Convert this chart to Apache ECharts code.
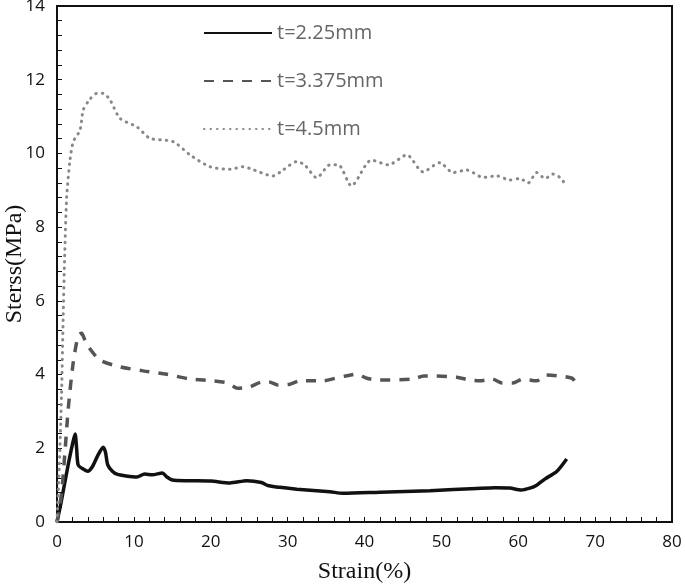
<!DOCTYPE html>
<html>
<head>
<meta charset="utf-8">
<script src="https://cdn.jsdelivr.net/npm/echarts@6/dist/echarts.min.js"></script>
<style>
  html, body { margin: 0; padding: 0; background: #fff; }
  #chart { width: 685px; height: 584px; }
</style>
</head>
<body>
<div id="chart"></div>
<script>
// t = 2.25 mm
var strainA = [0, 0.5, 1, 1.5, 2.0, 2.35, 2.55, 2.75, 3.3, 4.0, 4.6, 5.3, 6.0, 6.3, 6.6, 7.2, 7.8, 9, 10.4, 11.4, 12.4, 13.7, 14.3, 15, 17, 20, 22.5, 24.7, 26.6, 27.4, 29, 31.2, 35.5, 37.2, 42, 48.5, 54.6, 57, 58.9, 60.4, 61.5, 62.4, 63.5, 65.0, 66.3]
var stressA = [0, 0.5, 1.05, 1.6, 2.1, 2.39, 2.0, 1.55, 1.45, 1.38, 1.5, 1.8, 2.03, 1.9, 1.55, 1.38, 1.3, 1.25, 1.22, 1.3, 1.28, 1.33, 1.22, 1.14, 1.12, 1.11, 1.06, 1.12, 1.07, 0.99, 0.94, 0.89, 0.82, 0.78, 0.81, 0.85, 0.91, 0.93, 0.92, 0.87, 0.92, 1.0, 1.17, 1.37, 1.71]

// t = 3.375 mm
var strainB = [0, 0.6, 1.0, 1.47, 2.1, 2.77, 3.2, 3.6, 4.07, 5.6, 8.2, 11.2, 14.3, 17.3, 20.3, 22.2, 23.5, 25.0, 26.7, 27.6, 28.7, 30.3, 31.6, 34.6, 36.2, 37.5, 39.0, 40.3, 41.9, 46.3, 47.7, 49.2, 52, 53.7, 55, 56.6, 57.9, 59.3, 60.6, 62.4, 63.6, 65.4, 67.0, 67.4]
var stressB = [0, 0.8, 1.8, 3.09, 4.31, 5.07, 5.12, 4.95, 4.76, 4.39, 4.21, 4.1, 4.01, 3.88, 3.83, 3.77, 3.63, 3.66, 3.8, 3.8, 3.72, 3.74, 3.83, 3.83, 3.9, 3.96, 4.01, 3.9, 3.85, 3.88, 3.96, 3.96, 3.93, 3.85, 3.83, 3.88, 3.77, 3.77, 3.88, 3.83, 3.99, 3.96, 3.9, 3.8]

// t = 4.5 mm
var strainC = [0, 0.3, 0.6, 0.8, 1.0, 1.26, 1.69, 2.12, 2.99, 3.42, 4.2, 5.16, 6.0, 6.9, 8.2, 10.4, 12.1, 15.1, 17.3, 19.9, 22.5, 24.2, 25.1, 28.1, 29.4, 31.2, 32.2, 33.8, 35.5, 36.6, 38.3, 40.9, 43.1, 45.5, 47.6, 49.8, 51.5, 53.3, 55.4, 57.2, 58.9, 60.2, 61.3, 62.4, 63.5, 64.5, 65.6, 66.2]
var stressC = [0, 1.5, 3.5, 5.5, 7.2, 8.8, 9.82, 10.32, 10.63, 11.18, 11.45, 11.63, 11.63, 11.45, 10.95, 10.72, 10.41, 10.32, 9.96, 9.64, 9.57, 9.64, 9.59, 9.39, 9.55, 9.78, 9.69, 9.34, 9.69, 9.69, 9.12, 9.82, 9.69, 9.96, 9.5, 9.75, 9.48, 9.55, 9.35, 9.39, 9.28, 9.32, 9.2, 9.48, 9.32, 9.44, 9.32, 9.1]

var names = ['t=2.25mm', 't=3.375mm', 't=4.5mm']

function pairs (xs, ys) {
  var out = []
  for (var i = 0; i < xs.length; i++) out.push([xs[i], ys[i]])
  return out
}

var chart = echarts.init(document.getElementById('chart'))
var labelFont = { color: '#111', fontSize: 17, fontFamily: 'Open Sans' }

var option = {
  animation: false,
  grid: {
    left: 57, right: 13, top: 6, bottom: 62,
    outerBoundsMode: 'none',
    containLabel: false,
    show: true, borderColor: '#111', borderWidth: 2
  },
  legend: {
    orient: 'vertical',
    left: 198,
    top: 17,
    itemWidth: 68,
    itemHeight: 22,
    itemGap: 26,
    itemStyle: { opacity: 0 },
    textStyle: { color: '#666', fontSize: 20, fontFamily: 'Open Sans', lineHeight: 22 },
    data: names
  },
  xAxis: {
    type: 'value',
    min: 0, max: 80, interval: 10,
    name: 'Strain(%)',
    nameLocation: 'middle',
    nameGap: 38,
    nameMoveOverlap: false,
    nameTextStyle: { color: '#111', fontSize: 24, fontFamily: 'Liberation Serif' },
    axisLine: { lineStyle: { color: '#111', width: 2 } },
    axisTick: { inside: true, length: 5, lineStyle: { color: '#111' } },
    minorTick: { show: true, splitNumber: 5, length: 5, lineStyle: { color: '#111' } },
    splitLine: { show: false },
    axisLabel: Object.assign({ margin: 12 }, labelFont)
  },
  yAxis: {
    type: 'value',
    min: 0, max: 14, interval: 2,
    name: 'Sterss(MPa)',
    nameLocation: 'middle',
    nameGap: 30,
    nameMoveOverlap: false,
    nameTextStyle: { color: '#111', fontSize: 24, fontFamily: 'Liberation Serif' },
    axisLine: { lineStyle: { color: '#111', width: 2 } },
    axisTick: { inside: true, length: 5, lineStyle: { color: '#111' } },
    minorTick: { show: true, splitNumber: 5, length: 5, lineStyle: { color: '#111' } },
    splitLine: { show: false },
    axisLabel: Object.assign({ margin: 12 }, labelFont)
  },
  series: [
    {
      name: names[0],
      type: 'line',
      showSymbol: false,
      symbol: 'none',
      smooth: 0.25,
      data: pairs(strainA, stressA),
      lineStyle: { color: '#111', width: 3.5 },
      itemStyle: { color: '#111' }
    },
    {
      name: names[1],
      type: 'line',
      showSymbol: false,
      symbol: 'none',
      smooth: 0.25,
      data: pairs(strainB, stressB),
      lineStyle: { color: '#555', width: 3.5, type: [10, 9] },
      itemStyle: { color: '#555' }
    },
    {
      name: names[2],
      type: 'line',
      showSymbol: false,
      symbol: 'none',
      smooth: 0.25,
      data: pairs(strainC, stressC),
      lineStyle: { color: '#888', width: 3, type: [0.5, 6], cap: 'round' },
      itemStyle: { color: '#888' }
    }
  ]
}
chart.setOption(option)
</script>
</body>
</html>
